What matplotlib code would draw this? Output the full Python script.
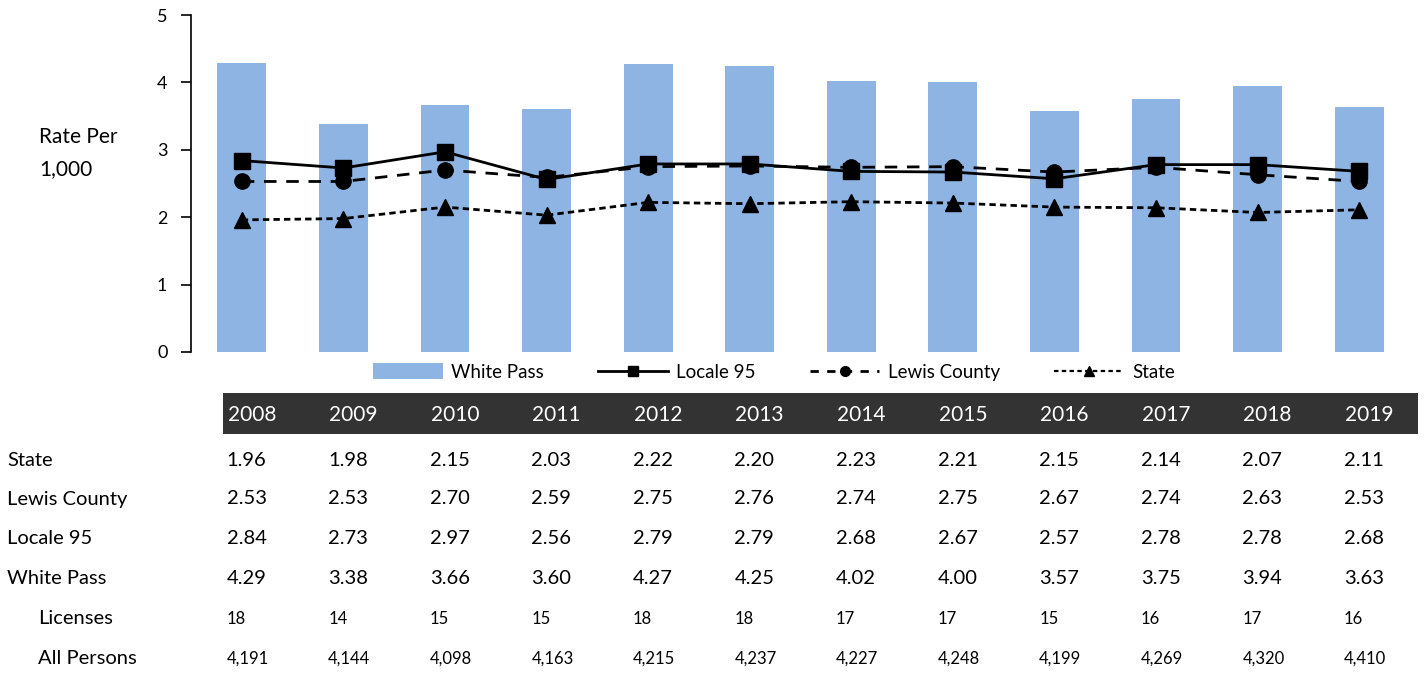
import matplotlib
matplotlib.use("Agg")
import matplotlib.pyplot as plt
import matplotlib.transforms as mtransforms
from matplotlib.patches import Rectangle, Patch
from matplotlib.lines import Line2D

plt.rcParams['font.family'] = ['Lato', 'DejaVu Sans']

years = ['2008', '2009', '2010', '2011', '2012', '2013', '2014', '2015', '2016', '2017', '2018', '2019']
state = [1.96, 1.98, 2.15, 2.03, 2.22, 2.20, 2.23, 2.21, 2.15, 2.14, 2.07, 2.11]
lewis = [2.53, 2.53, 2.70, 2.59, 2.75, 2.76, 2.74, 2.75, 2.67, 2.74, 2.63, 2.53]
locale95 = [2.84, 2.73, 2.97, 2.56, 2.79, 2.79, 2.68, 2.67, 2.57, 2.78, 2.78, 2.68]
white_pass = [4.29, 3.38, 3.66, 3.60, 4.27, 4.25, 4.02, 4.00, 3.57, 3.75, 3.94, 3.63]
licenses = ['18', '14', '15', '15', '18', '18', '17', '17', '15', '16', '17', '16']
all_persons = ['4,191', '4,144', '4,098', '4,163', '4,215', '4,237', '4,227', '4,248', '4,199', '4,269', '4,320', '4,410']

W, H = 1426, 673
fig = plt.figure(figsize=(W / 100, H / 100), dpi=100)
ax = fig.add_axes([191 / W, 1 - 352 / H, (1410 - 191) / W, (352 - 15) / H])

x = list(range(len(years)))
bar_color = '#8EB4E3'
ax.bar(x, white_pass, width=0.48, color=bar_color, zorder=1)
ax.plot(x, locale95, color='black', lw=2, marker='s', ms=11, zorder=3)
ax.plot(x, lewis, color='black', lw=2, ls=(0, (4.5, 3.5)), marker='o', ms=11, zorder=3)
ax.plot(x, state, color='black', lw=2, ls=(0, (2.3, 1.5)), marker='^', ms=11, zorder=3)

ax.set_xlim(-0.5, len(years) - 0.5)
ax.set_ylim(0, 5)
ax.set_yticks([0, 1, 2, 3, 4, 5])
ax.set_xticks([])
for s in ['top', 'right', 'bottom']:
    ax.spines[s].set_visible(False)
ax.spines['left'].set_linewidth(1.2)
ax.tick_params(axis='y', direction='out', length=7, width=1.2, labelsize=13, pad=10)

fig.text(39 / W, 1 - 137 / H, 'Rate Per', fontsize=15, va='center', ha='left')
fig.text(39 / W, 1 - 169 / H, '1,000', fontsize=15, va='center', ha='left')

handles = [
    Patch(facecolor=bar_color, edgecolor='none'),
    Line2D([], [], color='black', lw=2, marker='s', ms=7),
    Line2D([], [], color='black', lw=2, ls=(0, (3, 3)), marker='o', ms=7),
    Line2D([], [], color='black', lw=1.6, ls=(0, (2, 1.5)), marker='^', ms=7),
]
labels = ['White Pass', 'Locale 95', 'Lewis County', 'State']
fig.legend(handles, labels, loc='center', bbox_to_anchor=(774 / W, 1 - 372 / H), ncol=4,
           frameon=False, fontsize=13.5, handlelength=3.7, handleheight=0.9, columnspacing=2.9,
           handletextpad=0.45)

# Table
fig.patches.append(Rectangle((223 / W, 1 - 434 / H), (1418 - 223) / W, (434 - 393) / H,
                             transform=fig.transFigure, facecolor='#333333', edgecolor='none'))
tr = mtransforms.blended_transform_factory(ax.transData, fig.transFigure)
for i, yr in enumerate(years):
    fig.text(i - 0.14, 1 - 415 / H, yr, transform=tr, color='white', fontsize=15, va='center', ha='left')

rows = [
    ('State', [f'{v:.2f}' for v in state], 460, 7, 14.5),
    ('Lewis County', [f'{v:.2f}' for v in lewis], 499, 7, 14.5),
    ('Locale 95', [f'{v:.2f}' for v in locale95], 539, 7, 14.5),
    ('White Pass', [f'{v:.2f}' for v in white_pass], 579, 7, 14.5),
    ('Licenses', licenses, 619, 38, 12),
    ('All Persons', all_persons, 659, 38, 12),
]
for label, vals, py, px, fs in rows:
    fig.text(px / W, 1 - py / H, label, fontsize=14.5, va='center', ha='left')
    for i, v in enumerate(vals):
        fig.text(i - 0.15, 1 - py / H, v, transform=tr, fontsize=fs, va='center', ha='left')

fig.savefig('out.png', dpi=100)
